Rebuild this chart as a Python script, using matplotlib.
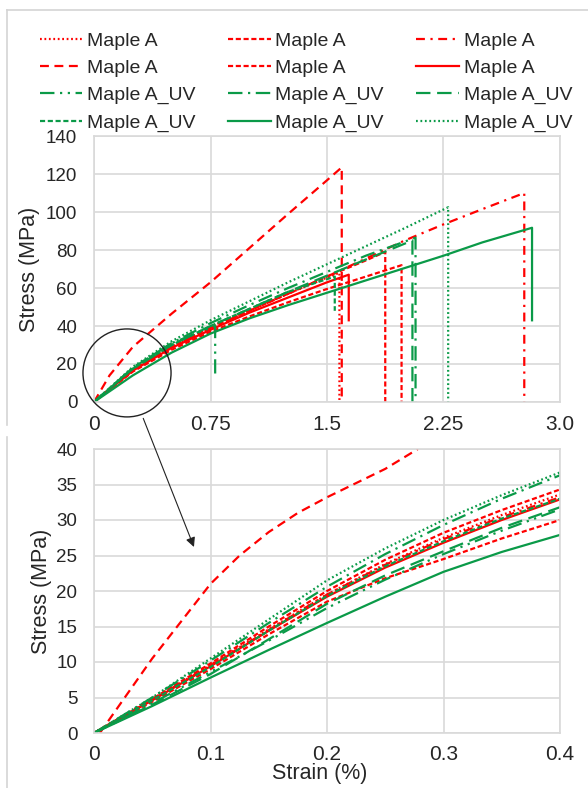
import numpy as np
import matplotlib
matplotlib.use("Agg")
import matplotlib.pyplot as plt
from matplotlib.patches import Ellipse, ConnectionPatch
from matplotlib.lines import Line2D

plt.rcParams['font.family'] = ['Liberation Sans', 'DejaVu Sans']

RED = '#FF0000'
GREEN = '#0A9A48'
GRID = '#D9D9D9'
TXT = '#262626'

labels = ['Maple A'] * 6 + ['Maple A_UV'] * 6

# overview panel: strain (%) / stress (MPa), last point = drop after failure
top_strain = [
    [0, 0.25, 0.5, 0.75, 1.0, 1.25, 1.5, 1.58, 1.58],
    [0, 0.25, 0.5, 0.75, 1.0, 1.25, 1.5, 1.75, 1.98, 1.98],
    [0, 0.25, 0.5, 0.75, 1.0, 1.25, 1.5, 1.75, 2.0, 2.25, 2.5, 2.77, 2.77],
    [0, 0.1, 0.25, 0.5, 0.75, 1.0, 1.25, 1.5, 1.595, 1.595],
    [0, 0.25, 0.5, 0.75, 1.0, 1.25, 1.5, 1.75, 1.875, 1.875],
    [0, 0.25, 0.5, 0.75, 1.0, 1.25, 1.5, 1.64, 1.64],
    [0, 0.25, 0.5, 0.78, 0.78],
    [0, 0.25, 0.5, 0.75, 1.0, 1.25, 1.5, 1.75, 2.07, 2.07],
    [0, 0.25, 0.5, 0.75, 1.0, 1.25, 1.5, 1.75, 2.05, 2.05],
    [0, 0.25, 0.5, 0.75, 1.0, 1.25, 1.55, 1.55],
    [0, 0.25, 0.5, 0.75, 1.0, 1.25, 1.5, 2.0, 2.25, 2.5, 2.82, 2.82],
    [0, 0.25, 0.5, 0.75, 1.0, 1.25, 1.5, 1.75, 2.0, 2.28, 2.28],
]
top_stress = [
    [0, 17, 29, 39.5, 48.5, 57, 65.5, 68, 0],
    [0, 16, 27.5, 37, 45, 52.5, 59.5, 66, 72, 0],
    [0, 17, 29, 39, 48, 57, 66, 75.5, 85, 93.5, 101.5, 110, 0],
    [0, 14, 29, 46.5, 63, 81, 99, 116.7, 123.5, 0],
    [0, 17, 29, 39, 48, 57, 66, 74.5, 79, 0],
    [0, 16.5, 28.5, 38, 47, 55, 63, 67, 43],
    [0, 18, 31, 40, 15],
    [0, 18, 31, 41.5, 51, 60, 68.5, 77, 86.5, 0],
    [0, 17.5, 30, 40, 49, 58, 66.5, 75, 85, 0],
    [0, 17.5, 30, 40, 49, 58, 66, 48],
    [0, 14, 26, 36, 44, 51, 57.5, 70.5, 77, 84, 91.7, 43],
    [0, 18.5, 32, 43, 53, 63, 72.5, 82, 91.5, 102.5, 0],
]

# detail panel (0 - 0.4 % strain)
det_strain = [0, 0.05, 0.1, 0.15, 0.2, 0.25, 0.3, 0.35, 0.4]
det_steep_strain = [0.005, 0.05, 0.1, 0.125, 0.15, 0.175, 0.2, 0.25, 0.278]
det_stress = [
    [0, 4.7, 9.6, 14.6, 19.5, 23.8, 27.5, 30.7, 33.6],
    [0, 4.8, 9.8, 15.0, 20.0, 24.4, 28.2, 31.4, 34.3],
    [0, 4.7, 9.5, 14.5, 19.5, 23.7, 27.3, 30.4, 33.2],
    [0, 10.5, 21.0, 25.0, 28.3, 31.0, 33.2, 37.2, 40.0],
    [0, 4.4, 9.0, 13.9, 18.5, 21.8, 24.5, 27.4, 30.0],
    [0, 4.6, 9.4, 14.4, 19.2, 23.3, 26.8, 30.0, 32.9],
    [0, 4.2, 8.6, 13.0, 17.6, 21.6, 25.2, 28.5, 31.5],
    [0, 5.0, 10.2, 15.5, 20.6, 25.2, 29.3, 33.0, 36.3],
    [0, 4.0, 8.3, 13.2, 18.2, 22.2, 25.6, 28.9, 31.8],
    [0, 4.6, 9.3, 14.4, 19.3, 23.5, 27.0, 30.2, 33.0],
    [0, 3.8, 7.8, 11.7, 15.5, 19.2, 22.7, 25.5, 27.9],
    [0, 5.0, 10.5, 16.0, 21.5, 26.0, 30.0, 33.5, 36.7],
]

colors = [RED] * 6 + [GREEN] * 6
styles = [
    (0, (0.8, 1.2)),
    (0, (2.3, 1.2)),
    (0, (4, 2.5, 1, 2.5)),
    (0, (4, 2.5)),
    (0, (2.3, 1.2)),
    '-',
    (0, (6.5, 2.5, 1, 2.5, 1, 2.5)),
    (0, (6.5, 2.5, 1, 2.5)),
    (0, (6.5, 3)),
    (0, (2.3, 1.2)),
    '-',
    (0, (0.8, 1.2)),
]

fig = plt.figure(figsize=(5.88, 7.88), dpi=100)
ax1 = fig.add_axes([94 / 588, 1 - 402 / 788, 466 / 588, 266 / 788])
ax2 = fig.add_axes([94 / 588, 1 - 733 / 788, 466 / 588, 284 / 788])

handles = []
for i in range(12):
    h, = ax1.plot(top_strain[i], top_stress[i], color=colors[i], linestyle=styles[i], lw=1.6)
    handles.append(h)
    xs = det_steep_strain if i == 3 else det_strain
    ax2.plot(xs, det_stress[i], color=colors[i], linestyle=styles[i], lw=1.6)

for ax in (ax1, ax2):
    ax.grid(True, color=GRID, lw=1.2)
    ax.set_axisbelow(True)
    for s in ax.spines.values():
        s.set_color(GRID)
        s.set_linewidth(1.2)
    ax.tick_params(length=0, colors=TXT)
    ax.tick_params(axis='x', labelsize=15, pad=9)
    ax.tick_params(axis='y', labelsize=13.5, pad=12)

ax1.set_xlim(0, 3.0)
ax1.set_ylim(0, 140)
ax1.set_xticks([0, 0.75, 1.5, 2.25, 3.0])
ax1.set_xticklabels(['0', '0.75', '1.5', '2.25', '3.0'])
ax1.set_yticks(np.arange(0, 141, 20))
ax1.set_ylabel('Stress (MPa)', fontsize=15.5, color=TXT)
ax1.yaxis.set_label_coords(-0.116, 0.5)

ax2.set_xlim(0, 0.4)
ax2.set_ylim(0, 40)
ax2.set_xticks([0, 0.1, 0.2, 0.3, 0.4])
ax2.set_xticklabels(['0', '0.1', '0.2', '0.3', '0.4'])
ax2.set_yticks(np.arange(0, 41, 5))
ax2.set_ylabel('Stress (MPa)', fontsize=15.5, color=TXT)
ax2.yaxis.set_label_coords(-0.09, 0.5)
ax2.set_xlabel('Strain (%)', fontsize=15.5, color=TXT)
ax2.xaxis.set_label_coords(0.485, -0.105)

# zoom circle and arrow
circ = Ellipse((0.2125, 15.3), 0.567, 46.3, fill=False, ec='#222222', lw=1.0, clip_on=False, zorder=5)
ax1.add_patch(circ)
arrow = ConnectionPatch(xyA=(0.317, -8.6), coordsA=ax1.transData,
                        xyB=(0.0858, 26.2), coordsB=ax2.transData,
                        arrowstyle='-|>', mutation_scale=14, lw=0.8, color='#222222', zorder=6)
fig.add_artist(arrow)

# legend, row-major order like the original
order = [0, 3, 6, 9, 1, 4, 7, 10, 2, 5, 8, 11]
fig.legend([handles[k] for k in order], [labels[k] for k in order],
           ncol=3, loc='upper left', bbox_to_anchor=(39.5 / 588, 1 - 32 / 788),
           frameon=False, fontsize=14, handlelength=2.2, handletextpad=0.25,
           columnspacing=1.65, labelspacing=0.5, borderpad=0, borderaxespad=0,
           labelcolor=TXT)

# outer frame lines
fc = '#D4D4D4'
fig.add_artist(Line2D([7 / 588, 7 / 588], [1 - 10 / 788, 1 - 425 / 788], color=fc, lw=1.2))
fig.add_artist(Line2D([7 / 588, 1], [1 - 10 / 788, 1 - 10 / 788], color=fc, lw=1.2))
fig.add_artist(Line2D([7 / 588, 7 / 588], [1 - 437 / 788, 0], color=fc, lw=1.2))

fig.savefig('out.png', dpi=100, facecolor='white')
